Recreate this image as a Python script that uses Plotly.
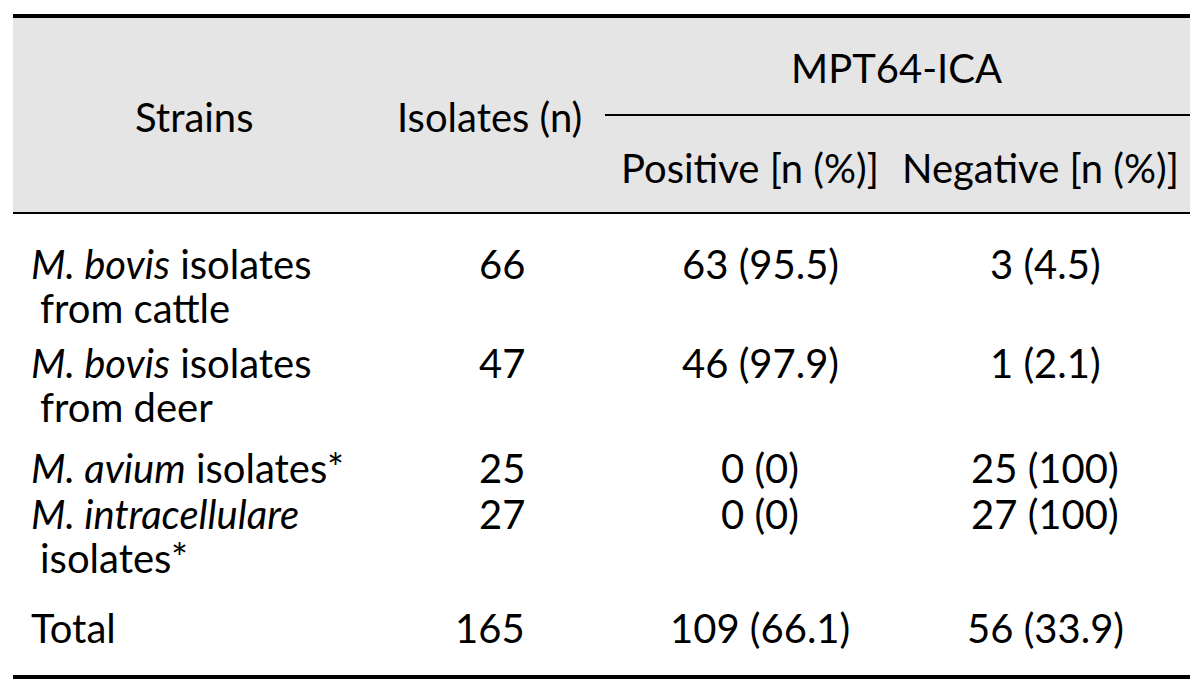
import plotly.graph_objects as go

# table content
strains = [
    "<i>M. bovis</i> isolates<br>from cattle",
    "<i>M. bovis</i> isolates<br>from deer",
    "<i>M. avium</i> isolates*",
    "<i>M. intracellulare</i><br>isolates*",
    "Total",
]
isolates = [66, 47, 25, 27, 165]
positive = ["63 (95.5)", "46 (97.9)", "0 (0)", "0 (0)", "109 (66.1)"]
negative = ["3 (4.5)", "1 (2.1)", "25 (100)", "27 (100)", "56 (33.9)"]

header_main = ["Strains", "Isolates (n)"]
header_group = "MPT64-ICA"
header_sub = ["Positive [n (%)]", "Negative [n (%)]"]

# layout (pixel space); page body has an 8px margin, so the axes start at 8
W, H = 1200, 692
OFF = 8
FONT = "Lato"
FS = 40
row_y = [264, 363, 468, 514, 628]
line_gap = 44
col_x = dict(strain=29, isolates=527, pos=760, neg=1045)

fig = go.Figure()
fig.add_trace(go.Scatter(x=[OFF, W], y=[OFF, H], mode="markers",
                         marker=dict(opacity=0), hoverinfo="skip", showlegend=False))

shapes = [
    dict(type="rect", x0=13, x1=1190, y0=16, y1=213, fillcolor="#e5e5e5", line_width=0, layer="below"),
    dict(type="line", x0=13, x1=1190, y0=16, y1=16, line=dict(color="black", width=4)),
    dict(type="line", x0=605, x1=1190, y0=115, y1=115, line=dict(color="black", width=2)),
    dict(type="line", x0=13, x1=1190, y0=213, y1=213, line=dict(color="black", width=2)),
    dict(type="line", x0=13, x1=1190, y0=677, y1=677, line=dict(color="black", width=4)),
]

ann = []
def txt(x, y, s, xa="center"):
    ann.append(dict(x=x, y=y, xref="x", yref="y", text=s, showarrow=False,
                    xanchor=xa, yanchor="middle", font=dict(family=FONT, size=FS, color="black")))

# header
txt(194, 117, header_main[0])
txt(489, 117, header_main[1])
txt(896, 68, header_group)
txt(750, 168, header_sub[0])
txt(1040, 168, header_sub[1])

# body
for i in range(len(strains)):
    y = row_y[i]
    for j, part in enumerate(strains[i].split("<br>")):
        txt(col_x["strain"] + (9 if j else 0), y + j * line_gap, part, "left")
    txt(col_x["isolates"], y, str(isolates[i]), "right")
    txt(col_x["pos"], y, positive[i])
    txt(col_x["neg"], y, negative[i])

fig.update_layout(
    width=W - OFF, height=H - OFF,
    margin=dict(l=0, r=0, t=0, b=0),
    paper_bgcolor="white", plot_bgcolor="white",
    xaxis=dict(range=[OFF, W], visible=False, fixedrange=True),
    yaxis=dict(range=[H, OFF], visible=False, fixedrange=True),
    shapes=shapes, annotations=ann, showlegend=False,
)

fig.write_html("out.html")
